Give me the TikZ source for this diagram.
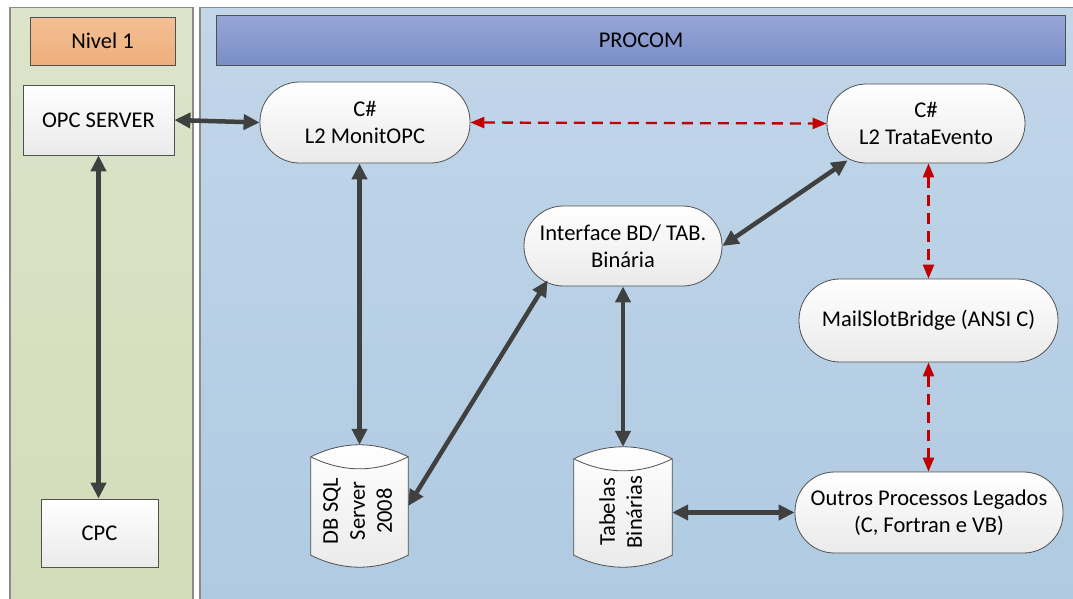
\documentclass[tikz,border=0pt]{standalone}
\usepackage{fontspec}
\setmainfont{Carlito}
\usepackage{graphicx}
\usetikzlibrary{arrows.meta,calc}
\definecolor{greentop}{HTML}{DCE4CA}
\definecolor{greenbot}{HTML}{D2DCB9}
\definecolor{bluetop}{HTML}{C2D6E9}
\definecolor{bluebot}{HTML}{AFCAE2}
\definecolor{headtop}{HTML}{96A7D6}
\definecolor{headbot}{HTML}{7A8EC7}
\definecolor{niveltop}{HTML}{F4BF93}
\definecolor{nivelbot}{HTML}{EEAF7C}
\definecolor{boxline}{HTML}{505050}
\definecolor{boxbot}{HTML}{EAEAEA}
\definecolor{panelline}{HTML}{8A8A8A}
\definecolor{arrgray}{HTML}{404040}
\definecolor{redc}{HTML}{C00000}
\newcommand\fs{\fontsize{22.5}{27}\selectfont}
\newcommand\cylshape[1]{%
  \shade[draw=boxline, line width=0.8pt, top color=white, bottom color=boxbot]
    ($(#1.north west)+(0,12)$) .. controls ($(#1.north west)+(32,-4)$) and ($(#1.north east)+(-32,-4)$) .. ($(#1.north east)+(0,12)$)
    -- ($(#1.south east)+(0,-12)$) .. controls ($(#1.south east)+(-32,4)$) and ($(#1.south west)+(32,4)$) .. ($(#1.south west)+(0,-12)$) -- cycle;
  \draw[boxline, line width=0.8pt]
    ($(#1.north west)+(0,12)$) .. controls ($(#1.north west)+(32,28)$) and ($(#1.north east)+(-32,28)$) .. ($(#1.north east)+(0,12)$);
}
\pgfdeclarelayer{bg}
\pgfdeclarelayer{mid}
\pgfsetlayers{bg,mid,main}
\begin{document}
\begin{tikzpicture}[x=1pt,y=-1pt,
  rectbox/.style={draw=boxline, line width=0.8pt, top color=white, bottom color=boxbot, inner sep=0pt, align=center, font=\fs},
  pill/.style={rectangle, rounded corners=39.5pt, draw=boxline, line width=0.8pt, top color=white, bottom color=boxbot, inner sep=0pt, align=center, font=\fs},
  cylnode/.style={inner sep=0pt, font=\fs},
  thickarr/.style={draw=arrgray, line width=4.5pt, {Triangle[length=16pt,width=15pt]}-{Triangle[length=16pt,width=15pt]}},
  redarr/.style={draw=redc, line width=2.3pt, dash pattern=on 11pt off 7pt, {Triangle[length=14pt,width=11pt]}-{Triangle[length=14pt,width=11pt]}}
]
\useasboundingbox (0,0) rectangle (1073,598);
\begin{pgfonlayer}{bg}
  \path[draw=panelline, line width=1.5pt, top color=greentop, bottom color=greenbot] (10,7.5) rectangle (193,610);
  \path[draw=panelline, line width=1.5pt, top color=bluetop, bottom color=bluebot] (200,7.5) rectangle (1090,610);
\end{pgfonlayer}

\node[rectbox, top color=niveltop, bottom color=nivelbot, minimum width=145, minimum height=48] (nivel) at (102.5,41) {Nivel 1};
\node[rectbox, top color=headtop, bottom color=headbot, minimum width=849, minimum height=50] (procom) at (641,40) {PROCOM};

\node[rectbox, minimum width=151, minimum height=70] (opc) at (98.5,120) {OPC SERVER};
\node[rectbox, minimum width=117, minimum height=68] (cpc) at (99.5,533) {CPC};

\node[pill, minimum width=210, minimum height=81] (monit) at (365,122.5) {C\#\\L2 MonitOPC};
\node[pill, minimum width=198, minimum height=79] (trata) at (926,123.5) {C\#\\L2 TrataEvento};
\node[pill, minimum width=198, minimum height=80] (iface) at (623,246) {Interface BD/ TAB.\\Binária};
\node[pill, rounded corners=41pt, minimum width=259, minimum height=83] (mail) at (928.5,320.5) {MailSlotBridge (ANSI C)};
\node[pill, minimum width=268, minimum height=81] (outros) at (929,512.5) {Outros Processos Legados\\(C, Fortran e VB)};

\node[cylnode, minimum width=97, minimum height=122] (db) at (359.5,506) {\rotatebox{90}{\begin{tabular}{@{}c@{}}DB SQL\\Server\\2008\end{tabular}\hspace*{10pt}}};
\node[cylnode, minimum width=98, minimum height=120] (tab) at (623,507) {\rotatebox{90}{\begin{tabular}{@{}c@{}}Tabelas\\Binárias\end{tabular}\hspace*{10pt}}};
\begin{pgfonlayer}{mid}
  \cylshape{db}
  \cylshape{tab}
\end{pgfonlayer}

\draw[thickarr] (opc.east) -- (monit.west);
\draw[thickarr] (opc.south) -- (opc.south |- cpc.north);
\draw[thickarr] (db.north |- monit.south) -- (db.north);
\draw[redarr] (monit.east) -- (trata.west);
\draw[thickarr] ($(trata.south west)+(21,-3)$) -- (iface.east);
\draw[thickarr] ($(iface.south west)+(24,-6)$) -- (db.east);
\draw[thickarr] (iface.south) -- (tab.north);
\draw[redarr] (mail.north |- trata.south) -- (mail.north);
\draw[redarr] (mail.south) -- (mail.south |- outros.north);
\draw[thickarr] (tab.east |- outros.west) -- (outros.west);
\end{tikzpicture}
\end{document}
